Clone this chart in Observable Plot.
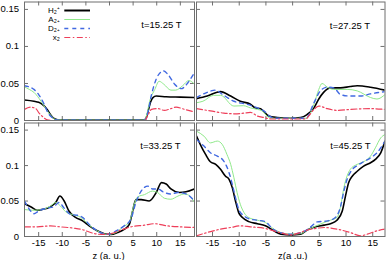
<!DOCTYPE html>
<html><head><meta charset="utf-8">
<script src="https://cdn.jsdelivr.net/npm/d3@7"></script>
<script src="https://cdn.jsdelivr.net/npm/@observablehq/plot@0.6"></script>
<style>
html,body{margin:0;padding:0;background:#fff;}
#chart{position:relative;width:390px;height:260px;overflow:hidden;}
#chart svg{position:absolute;}
</style></head><body><div id="chart"></div>
<script>
// ---- labels / ticks ----
const seriesNames = ["H", "A", "D", "X"];
const legendLabels = ["H₂⁺", "A₂₊", "D₂₊", "x₂"];
const panelTimes = ["t=15.25 T", "t=27.25 T", "t=33.25 T", "t=45.25 T"];
const xTicks = [-15, -10, -5, 0, 5, 10, 15];
const yTicks = [0, 0.05, 0.1, 0.15];
const xAxisLabels = ["z (a. u.)", "z(a .u.)"];

// ---- data: [z, value] ----
// t = 15.25 T
const H1 = [[-18,.0277],[-16,.026],[-15,.0245],[-14.3,.022],[-13.2,.015],[-12.5,.008],[-12,.004],[-11,.001],[-10,.0005],[7.3,.0005],[7.8,.004],[8.2,.013],[8.7,.025],[9.2,.031],[9.9,.033],[12,.032],[15,.0315],[18,.031]];
const A1 = [[-18,.0455],[-17,.042],[-16,.038],[-14.5,.026],[-13.4,.015],[-12.3,.006],[-11.3,.001],[-10,.0005],[7.3,.0005],[7.8,.006],[8.5,.026],[9.6,.042],[10.5,.053],[11.5,.049],[13,.041],[14,.041],[15.5,.047],[16.8,.054],[18,.049]];
const D1 = [[-18,.047],[-16,.042],[-15,.035],[-14,.024],[-13,.010],[-11.9,.003],[-11,.0005],[7.5,.0005],[8,.008],[8.9,.035],[9.9,.056],[11,.066],[11.4,.067],[12.4,.062],[13.8,.049],[15.2,.043],[16.6,.051],[18,.065]];
const X1 = [[-18,.015],[-16.7,.018],[-15.6,.016],[-14.9,.010],[-14.3,.006],[-13.2,.001],[-12,0],[7.5,0],[8.2,.008],[8.9,.015],[10.3,.016],[11.6,.0136],[13,.016],[14.1,.018],[15.9,.015],[18,.0114]];
// t = 27.25 T
const H2 = [[-18,.0295],[-16,.033],[-13.5,.039],[-11.6,.033],[-9.8,.026],[-7.9,.022],[-7,.017],[-6,.016],[-5.1,.010],[-4.5,.006],[-2.9,.004],[-0.4,.003],[1.5,.004],[2.7,.008],[4,.017],[4.9,.029],[5.8,.038],[7.1,.044],[9,.044],[10.8,.046],[12.1,.047],[14.6,.045],[17.3,.041]];
const A2 = [[-18,.024],[-16.8,.026],[-14.8,.034],[-13.5,.034],[-11,.0195],[-9.2,.020],[-7.9,.017],[-6.6,.015],[-5.7,.013],[-4.8,.006],[-4,.003],[2.5,.003],[4,.022],[4.9,.042],[5.5,.050],[6.5,.045],[7.7,.042],[10.2,.042],[12.1,.040],[14.6,.031],[15.8,.029],[17.3,.035]];
const D2 = [[-18,.031],[-16,.038],[-14.5,.041],[-12.9,.034],[-11,.026],[-8.6,.022],[-6.6,.017],[-5.4,.013],[-4.1,.005],[-3,.003],[2.5,.003],[4,.024],[5.2,.040],[6.5,.045],[7.7,.044],[9,.035],[10.8,.033],[12.7,.033],[14.6,.036],[17.3,.039]];
const X2 = [[-18,.016],[-15.4,.013],[-12.9,.010],[-10.4,.009],[-9.1,.010],[-7.9,.011],[-6.6,.006],[-5.4,.004],[-4,.002],[2.5,.002],[3,.006],[4,.015],[4.9,.0195],[6.5,.016],[8.4,.0136],[10.8,.015],[14.6,.016],[17.3,.015]];
// t = 33.25 T
const H3 = [[-18,.0464],[-16.7,.042],[-15.3,.037],[-14.3,.038],[-12.5,.042],[-11.4,.048],[-10.5,.057],[-9.6,.050],[-8.6,.036],[-7.2,.027],[-5.7,.022],[-4.3,.015],[-2.6,.008],[-1.1,.004],[0.3,.003],[1.7,.0056],[3.1,.010],[4.2,.017],[4.9,.036],[5.6,.052],[6.7,.052],[8.4,.050],[9.9,.062],[11,.076],[12,.074],[13,.067],[14.8,.062],[16.2,.063],[18,.067]];
const A3 = [[-18,.038],[-16,.037],[-14.3,.038],[-12.5,.043],[-11.4,.048],[-10.4,.043],[-9.3,.035],[-7.9,.031],[-6.1,.027],[-4.3,.016],[-2.6,.008],[-0.4,.003],[1.4,.0056],[2.8,.0136],[4.2,.020],[5.2,.045],[6,.056],[7.4,.059],[9.1,.064],[10.2,.062],[11.6,.054],[13,.0525],[14.5,.057],[15.9,.060],[17,.057],[18,.048]];
const D3 = [[-18,.050],[-16.7,.036],[-16,.032],[-15,.036],[-13.2,.040],[-11.8,.042],[-10.7,.048],[-9.6,.040],[-8.2,.031],[-6.8,.030],[-5.7,.027],[-4.3,.017],[-2.6,.008],[-0.4,.003],[1.7,.009],[3.1,.015],[4.5,.024],[5.6,.048],[6.7,.064],[8.1,.071],[9.1,.067],[10.2,.067],[11.6,.062],[13,.060],[14.5,.062],[16.2,.060],[18,.050]];
const X3 = [[-18,.0136],[-15.3,.0136],[-12.5,.015],[-10.4,.0136],[-7.5,.0117],[-5.4,.009],[-4,.0056],[-1.8,.003],[0.3,.004],[2.4,.009],[4.5,.0136],[7.4,.016],[9.5,.018],[12.3,.015],[15,.0136],[18,.0127]];
// t = 45.25 T
const H4 = [[-18,.1415],[-17.3,.130],[-16.3,.1157],[-15.4,.1054],[-14.4,.1017],[-13.5,.0947],[-12.6,.0853],[-11.9,.0806],[-11.3,.0689],[-10.7,.050],[-10.1,.0337],[-9.4,.0267],[-8.2,.021],[-6.6,.018],[-5.1,.015],[-3.5,.008],[-2.2,.0033],[-0.4,.0023],[1.5,.0033],[2.7,.009],[4.3,.0136],[5.9,.016],[7.1,.018],[8.3,.023],[9.3,.036],[9.9,.057],[10.5,.076],[11.2,.0853],[12.1,.092],[13.3,.0993],[14.6,.104],[15.5,.1087],[16.5,.118],[17.3,.1345]];
const A4 = [[-18,.1485],[-16.6,.1415],[-15.4,.132],[-14.1,.1345],[-13.2,.130],[-12.3,.1157],[-11.6,.1017],[-11,.083],[-10.4,.062],[-9.8,.0455],[-9.1,.0337],[-8.2,.0267],[-6.6,.023],[-5.1,.0197],[-3.5,.0103],[-2.2,.0056],[-0.4,.0033],[1.5,.004],[2.7,.009],[4,.0136],[5.9,.0197],[7.1,.023],[8.3,.0267],[9,.043],[9.6,.0689],[10.2,.0853],[10.8,.0947],[12.1,.1017],[13.3,.1054],[14.6,.1134],[15.5,.125],[16.5,.139],[17.3,.1438]];
const D4 = [[-18,.1368],[-16.6,.1275],[-15.4,.118],[-14.1,.1134],[-12.9,.1064],[-11.9,.090],[-11.3,.0736],[-10.7,.0548],[-10.1,.0384],[-9.1,.029],[-7.9,.0244],[-6.6,.023],[-5.1,.021],[-4.1,.0136],[-2.9,.007],[-0.4,.0033],[2.1,.007],[3.4,.0136],[4.6,.0206],[6.5,.022],[8,.0267],[9,.043],[9.6,.064],[10.2,.0806],[11.2,.0947],[12.1,.100],[13.3,.1054],[14.6,.111],[15.8,.118],[17.3,.1345]];
const X4 = [[-18,.001],[-16,.0056],[-13.5,.0103],[-11.6,.0127],[-9.8,.015],[-7.9,.0136],[-5.4,.0117],[-3.5,.008],[-1.6,.004],[-0.4,.0023],[0.8,.004],[2.7,.009],[4.6,.0117],[5.9,.0127],[8.4,.0103],[10.8,.0056],[12.7,.001],[14,.0033],[15.8,.008],[17.3,.0103]];

const panelData = [[H1, A1, D1, X1], [H2, A2, D2, X2], [H3, A3, D3, X3], [H4, A4, D4, X4]];

// ---- styles ----
const styles = [
  {stroke: "#000000", strokeWidth: 1.6},
  {stroke: "#8fe88a", strokeWidth: 1},
  {stroke: "#4169e1", strokeWidth: 1.4, strokeDasharray: "4,4"},
  {stroke: "#ee3f5a", strokeWidth: 1.2, strokeDasharray: "6,2.5,1.5,2.5"}
];
const frameColor = "#6f6f6f";
const font = "'Liberation Sans', Arial, Helvetica, sans-serif";
const tickLen = 4;
const yDomain = [0, 0.16];

const layout = [
  {left: 0,   top: 0,   width: 195, height: 121.5, mL: 24, mR: 1,   mT: 1.5, mB: 1.5, xd: [-18, 18],   yLab: true,  xLab: false, dx: -13,   dy: 23},
  {left: 195, top: 0,   width: 195, height: 121.5, mL: 1,  mR: 5.5, mT: 1.5, mB: 1.5, xd: [-18, 17.3], yLab: false, xLab: false, dx: -15,   dy: 23.5},
  {left: 0,   top: 121, width: 195, height: 139,   mL: 24, mR: 1,   mT: 1.5, mB: 24,  xd: [-18, 18],   yLab: true,  xLab: true,  dx: -14,   dy: 22.5},
  {left: 195, top: 121, width: 195, height: 139,   mL: 1,  mR: 5.5, mT: 1.5, mB: 24,  xd: [-18, 17.3], yLab: false, xLab: true,  dx: -14.5, dy: 23}
];

const chart = document.getElementById("chart");

layout.forEach((L, i) => {
  const innerW = L.width - L.mL - L.mR;
  const innerH = L.height - L.mT - L.mB;
  const ty = (yDomain[1] - yDomain[0]) * tickLen / innerH;
  const tx = (L.xd[1] - L.xd[0]) * tickLen / innerW;
  const marks = [];
  // inward ticks
  marks.push(Plot.ruleX(xTicks, {x: d => d, y1: yDomain[0], y2: yDomain[0] + ty, stroke: frameColor}));
  marks.push(Plot.ruleX(xTicks, {x: d => d, y1: yDomain[1] - ty, y2: yDomain[1], stroke: frameColor}));
  marks.push(Plot.ruleY(yTicks, {y: d => d, x1: L.xd[0], x2: L.xd[0] + tx, stroke: frameColor}));
  marks.push(Plot.ruleY(yTicks, {y: d => d, x1: L.xd[1] - tx, x2: L.xd[1], stroke: frameColor}));
  // curves
  panelData[i].forEach((series, k) => {
    marks.push(Plot.line(series, {x: d => d[0], y: d => d[1], curve: "monotone-x", clip: true, ...styles[k]}));
  });
  marks.push(Plot.frame({stroke: frameColor, strokeWidth: 1}));
  if (L.yLab) marks.push(Plot.axisY({ticks: yTicks, tickSize: 0, tickPadding: 5.5, tickFormat: d => String(d), label: null}));
  if (L.xLab) {
    marks.push(Plot.axisX({ticks: xTicks, tickSize: 0, tickPadding: 2.5, tickFormat: d => String(d), label: null}));
    marks.push(Plot.text([xAxisLabels[i - 2]], {text: d => d, frameAnchor: "bottom", dy: 19.3, dx: i === 3 ? 2 : -1, lineAnchor: "middle", fill: "#000"}));
  }
  marks.push(Plot.text([panelTimes[i]], {text: d => d, frameAnchor: "top-right", textAnchor: "end", lineAnchor: "middle", dx: L.dx, dy: L.dy, fill: "#000"}));

  const svg = Plot.plot({
    width: L.width, height: L.height,
    marginLeft: L.mL, marginRight: L.mR, marginTop: L.mT, marginBottom: L.mB,
    x: {domain: L.xd, axis: null},
    y: {domain: yDomain, axis: null},
    style: {fontSize: "9.5px", fontFamily: font, color: "#000", background: "transparent", overflow: "visible"},
    marks
  });
  svg.style.left = L.left + "px";
  svg.style.top = L.top + "px";
  chart.appendChild(svg);
});

// legend (top-left panel)
const legendMarks = [];
seriesNames.forEach((name, k) => {
  legendMarks.push(Plot.ruleY([name], {y: d => d, x1: 0, x2: 1, ...styles[k], strokeWidth: k === 0 ? 2 : styles[k].strokeWidth}));
});
legendMarks.push(Plot.text(seriesNames, {x: 0, y: d => d, text: (d, j) => legendLabels[j], dx: -5, textAnchor: "end", lineAnchor: "middle", fill: "#000", fontSize: 8}));
const legend = Plot.plot({
  width: 100, height: 45, margin: 0,
  x: {domain: [0, 1], range: [64.3, 90], axis: null},
  y: {type: "point", domain: seriesNames, range: [9.5, 37.5], padding: 0, axis: null},
  style: {fontSize: "8px", fontFamily: font, color: "#000", background: "transparent", overflow: "visible"},
  marks: legendMarks
});
legend.style.left = "0px";
legend.style.top = "0px";
chart.appendChild(legend);
</script></body></html>
